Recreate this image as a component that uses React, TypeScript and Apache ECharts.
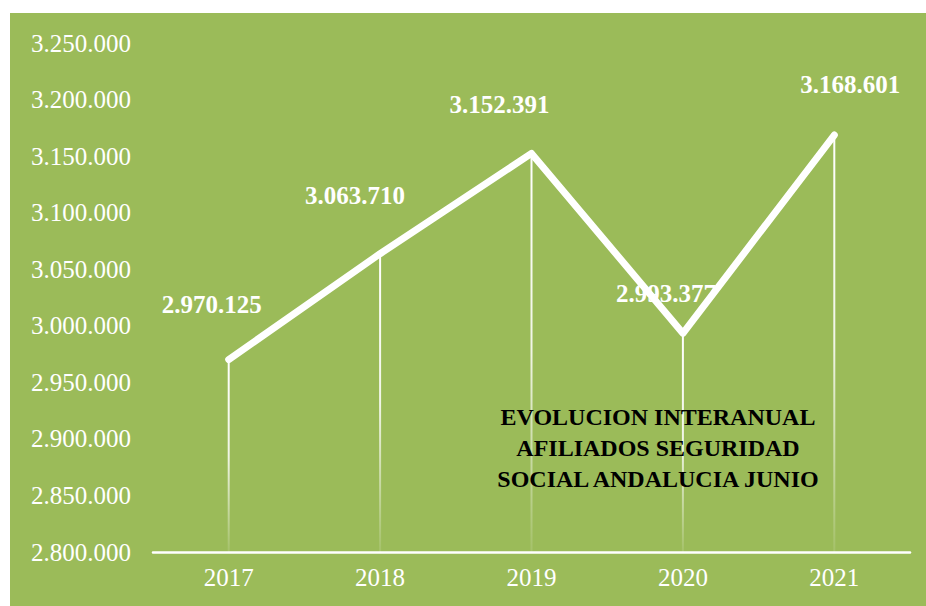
import React, { useEffect, useRef } from "react";
import * as echarts from "echarts";

const years = ["2017", "2018", "2019", "2020", "2021"];
const afiliados = [2970125, 3063710, 3152391, 2993377, 3168601];
const yMin = 2800000;
const yMax = 3250000;
const yStep = 50000;
const titleLines = ["EVOLUCION INTERANUAL", "AFILIADOS SEGURIDAD", "SOCIAL ANDALUCIA JUNIO"];

// label placement (layout, not data)
const labelOffsets: [number, number][] = [
  [-17, -55],
  [-25, -58],
  [-32, -49],
  [-17, -40],
  [16, -51],
];

const GREEN = "#9BBB59";
const SERIF = "'Liberation Serif', 'DejaVu Serif', serif";

function fmt(v: number): string {
  const s = Math.round(v).toString();
  return s.replace(/\B(?=(\d{3})+(?!\d))/g, ".");
}

export default function App() {
  const ref = useRef<HTMLDivElement>(null);
  useEffect(() => {
    if (!ref.current) return;
    const chart = echarts.init(ref.current, undefined, { renderer: "svg" });
    chart.setOption({
      animation: false,
      backgroundColor: "#ffffff",
      graphic: [
        {
          type: "rect",
          z: -10,
          silent: true,
          shape: { x: 10, y: 13, width: 916, height: 593 },
          style: { fill: GREEN },
        },
        {
          type: "text",
          z: 100,
          x: 658,
          y: 401,
          style: {
            text: titleLines.join("\n"),
            fill: "#000000",
            font: `bold 24px ${SERIF}`,
            textAlign: "center",
            lineHeight: 31,
          },
        },
      ],
      grid: { left: 153, right: 16, top: 43, bottom: 54, containLabel: false },
      xAxis: {
        type: "category",
        data: years,
        boundaryGap: true,
        axisLine: { show: true, lineStyle: { color: "#ffffff", width: 2.5 } },
        axisTick: { show: false },
        splitLine: { show: false },
        axisLabel: {
          color: "#ffffff",
          fontFamily: SERIF,
          fontSize: 25,
          margin: 13,
        },
      },
      yAxis: {
        type: "value",
        min: yMin,
        max: yMax,
        interval: yStep,
        axisLine: { show: false },
        axisTick: { show: false },
        splitLine: { show: false },
        axisLabel: {
          color: "#ffffff",
          fontFamily: SERIF,
          fontSize: 25,
          margin: 22,
          formatter: (v: number) => fmt(v),
        },
      },
      series: [
        {
          type: "bar",
          data: afiliados,
          barWidth: 2,
          z: 1,
          silent: true,
          itemStyle: {
            color: new echarts.graphic.LinearGradient(0, 0, 0, 1, [
              { offset: 0, color: "rgba(255,255,255,1)" },
              { offset: 0.5, color: "rgba(255,255,255,0.85)" },
              { offset: 1, color: "rgba(255,255,255,0.1)" },
            ]),
          },
        },
        {
          type: "line",
          data: afiliados.map((v, i) => ({
            value: v,
            label: { offset: labelOffsets[i] },
          })),
          z: 5,
          symbol: "circle",
          symbolSize: 6,
          itemStyle: { color: "#ffffff" },
          lineStyle: { color: "#ffffff", width: 7, cap: "round", join: "round" },
          label: {
            show: true,
            position: "inside",
            align: "center",
            verticalAlign: "middle",
            color: "#ffffff",
            fontFamily: SERIF,
            fontWeight: "bold",
            fontSize: 25,
            formatter: (p: any) => fmt(p.value),
          },
        },
      ],
    });
    return () => chart.dispose();
  }, []);
  return (
    <div style={{ position: "fixed", left: 0, top: 0, width: 926, height: 606, background: "#fff" }}>
      <div ref={ref} style={{ width: 926, height: 606 }} />
    </div>
  );
}
